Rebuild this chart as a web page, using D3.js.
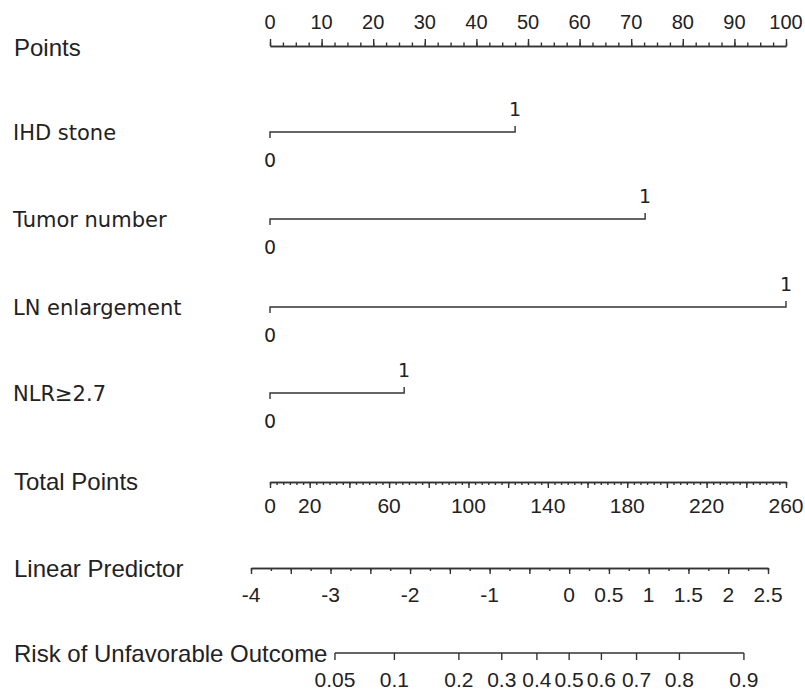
<!DOCTYPE html>
<html>
<head>
<meta charset="utf-8">
<script src="https://cdn.jsdelivr.net/npm/d3@7"></script>
<style>
  body { margin: 0; background: #fff; }
</style>
</head>
<body>
<script>
let w = 805;
let h = 691;
let axisFont = '"Liberation Sans", Arial, sans-serif';
let varFont = '"DejaVu Sans", Verdana, sans-serif';
let ink = '#333';

// points scale
let pointsMajor = [0, 10, 20, 30, 40, 50, 60, 70, 80, 90, 100];
let pointsMinorStep = 2.5;

// predictors and their points (level 1)
let varNames = ['IHD stone', 'Tumor number', 'LN enlargement', 'NLR≥2.7'];
let varPoints = [47.5, 72.7, 100, 26];
let varLevels = ['0', '1'];

// total points
let totalLabels = [0, 20, 60, 100, 140, 180, 220, 260];
let totalMajorStep = 20;
let totalMinorStep = 20 / 6;

// linear predictor
let lpLabels = [-4, -3, -2, -1, 0, 0.5, 1, 1.5, 2, 2.5];
let lpMajorStep = 0.5;
let lpMinorStep = 0.25;

// risk
let riskLabels = [0.05, 0.1, 0.2, 0.3, 0.4, 0.5, 0.6, 0.7, 0.8, 0.9];

let rowY = { points: 46, vars: [132, 219, 307, 393], total: 482, lp: 568, risk: 653 };

let pointsScale = d3.scaleLinear().domain([0, 100]).range([270, 786]);
let totalScale = d3.scaleLinear().domain([0, 260]).range([270, 786]);
let lpScale = d3.scaleLinear().domain([-4, 2.5]).range([251, 768]);
let riskX = (p) => lpScale(Math.log(p / (1 - p)));

let svg = d3.select('body')
  .append('svg')
  .attr('width', w)
  .attr('height', h);

function steps(a, b, s) {
  let out = [];
  let n = Math.round((b - a) / s);
  for (let i = 0; i <= n; i++) out.push(a + i * s);
  return out;
}

function tickAxis(axisFn, scale, y, values, len) {
  let g = svg.append('g')
    .attr('transform', 'translate(0,' + y + ')')
    .call(axisFn(scale).tickValues(values).tickSize(len).tickSizeOuter(0).tickFormat(''));
  g.selectAll('path, line').attr('stroke', ink).attr('stroke-width', 1.4);
  return g;
}

function rowLabel(text, y) {
  svg.append('text')
    .attr('x', 14)
    .attr('y', y)
    .attr('font-family', axisFont)
    .attr('font-size', 24)
    .attr('fill', '#222')
    .text(text);
}

function tickLabels(values, xfn, y, size) {
  svg.append('g')
    .selectAll('text')
    .data(values)
    .enter()
    .append('text')
    .attr('x', (d) => xfn(d))
    .attr('y', y)
    .attr('text-anchor', 'middle')
    .attr('font-family', axisFont)
    .attr('font-size', size)
    .attr('fill', '#222')
    .text((d) => d);
}

// Points
rowLabel('Points', rowY.points + 10);
tickAxis(d3.axisTop, pointsScale, rowY.points, steps(0, 100, pointsMinorStep), 3.5);
tickAxis(d3.axisTop, pointsScale, rowY.points, pointsMajor, 7);
tickLabels(pointsMajor, pointsScale, rowY.points - 17, 20);

// predictors
varNames.forEach((name, i) => {
  let y = rowY.vars[i];
  let x0 = pointsScale(0);
  let x1 = pointsScale(varPoints[i]);
  svg.append('text')
    .attr('x', 13)
    .attr('y', y + 8)
    .attr('font-family', varFont)
    .attr('font-size', 21)
    .attr('fill', '#222')
    .text(name);
  svg.append('path')
    .attr('d', 'M' + x0 + ',' + (y + 6) + 'V' + y + 'H' + x1 + 'V' + (y - 6))
    .attr('fill', 'none')
    .attr('stroke', ink)
    .attr('stroke-width', 1.4);
  svg.append('text')
    .attr('x', x0)
    .attr('y', y + 35)
    .attr('text-anchor', 'middle')
    .attr('font-family', varFont)
    .attr('font-size', 19)
    .attr('fill', '#222')
    .text(varLevels[0]);
  svg.append('text')
    .attr('x', x1)
    .attr('y', y - 16)
    .attr('text-anchor', 'middle')
    .attr('font-family', varFont)
    .attr('font-size', 19)
    .attr('fill', '#222')
    .text(varLevels[1]);
});

// Total Points
rowLabel('Total Points', rowY.total + 8);
tickAxis(d3.axisBottom, totalScale, rowY.total, steps(0, 260, totalMinorStep), 3);
tickAxis(d3.axisBottom, totalScale, rowY.total, steps(0, 260, totalMajorStep), 6);
tickLabels(totalLabels, totalScale, rowY.total + 31, 21);

// Linear Predictor
rowLabel('Linear Predictor', rowY.lp + 9);
tickAxis(d3.axisBottom, lpScale, rowY.lp, steps(-4, 2.5, lpMinorStep), 3);
tickAxis(d3.axisBottom, lpScale, rowY.lp, steps(-4, 2.5, lpMajorStep), 6);
tickLabels(lpLabels, lpScale, rowY.lp + 34, 21);

// Risk
rowLabel('Risk of Unfavorable Outcome', rowY.risk + 9);
let rx0 = riskX(riskLabels[0]);
let rx1 = riskX(riskLabels[riskLabels.length - 1]);
svg.append('line')
  .attr('x1', rx0).attr('x2', rx1)
  .attr('y1', rowY.risk).attr('y2', rowY.risk)
  .attr('stroke', ink).attr('stroke-width', 1.4);
svg.append('g')
  .selectAll('line')
  .data(riskLabels)
  .enter()
  .append('line')
  .attr('x1', (d) => riskX(d)).attr('x2', (d) => riskX(d))
  .attr('y1', rowY.risk).attr('y2', rowY.risk + 7)
  .attr('stroke', ink).attr('stroke-width', 1.4);
tickLabels(riskLabels, riskX, rowY.risk + 34, 21);
</script>
</body>
</html>
